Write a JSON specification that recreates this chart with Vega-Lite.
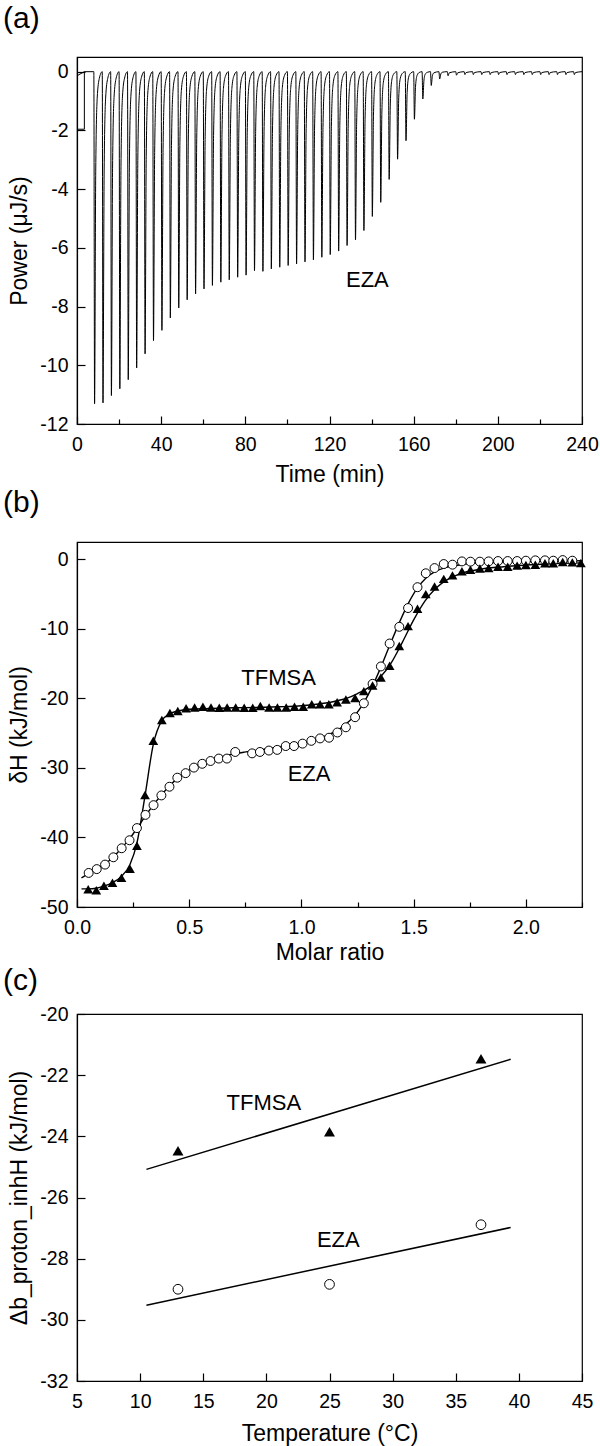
{
  "$schema": "https://vega.github.io/schema/vega-lite/v6.json",
  "padding": {"left": 2, "top": 3, "right": 0, "bottom": 0},
  "background": "white",
  "spacing": 0,
  "config": {
    "font": "Liberation Sans",
    "view": {"stroke": "black", "strokeWidth": 1.2},
    "axis": {"grid": false, "domainColor": "black", "domainWidth": 1.2, "tickColor": "black", "tickWidth": 1.2, "tickSize": -8,
      "labelColor": "black", "labelFont": "Liberation Sans", "labelFontSize": 19.5, "titleFont": "Liberation Sans", "titleFontSize": 23,
      "titleFontWeight": "normal", "titleColor": "black", "labelOverlap": false, "labelFlush": false, "labelBound": false},
    "axisX": {"labelPadding": 19.5, "titlePadding": 9},
    "axisY": {"labelPadding": 17, "titlePadding": 8},
    "title": {"anchor": "start", "frame": "group", "dx": -74, "fontSize": 30, "fontWeight": "normal", "font": "Liberation Sans", "color": "black"},
    "text": {"font": "Liberation Sans", "fontSize": 22, "color": "black"}
  },
  "datasets": {
    "a0": [{"t":0,"p":-0.14,"i":1},{"t":3.5,"p":0,"i":2},{"t":3.5,"p":-1.96,"i":3},{"t":0,"p":-1.96,"i":4}],
    "a1": [
      {"t":3.5,"p":0},
      {"t":8,"p":0},{"t":8.35,"p":-11.31},{"t":8.9,"p":-3.39},{"t":9.6,"p":-0.9},{"t":10.6,"p":-0.23},
      {"t":12,"p":0},{"t":12.35,"p":-11.28},{"t":12.9,"p":-3.38},{"t":13.6,"p":-0.9},{"t":14.6,"p":-0.23},
      {"t":16,"p":0},{"t":16.35,"p":-11.03},{"t":16.9,"p":-3.31},{"t":17.6,"p":-0.88},{"t":18.6,"p":-0.22},
      {"t":20,"p":0},{"t":20.35,"p":-10.8},{"t":20.9,"p":-3.24},{"t":21.6,"p":-0.86},{"t":22.6,"p":-0.22},
      {"t":24,"p":0},{"t":24.35,"p":-10.49},{"t":24.9,"p":-3.15},{"t":25.6,"p":-0.84},{"t":26.6,"p":-0.21},
      {"t":28,"p":0},{"t":28.35,"p":-10.09},{"t":28.9,"p":-3.03},{"t":29.6,"p":-0.81},{"t":30.6,"p":-0.2},
      {"t":32,"p":0},{"t":32.35,"p":-9.61},{"t":32.9,"p":-2.88},{"t":33.6,"p":-0.77},{"t":34.6,"p":-0.19},
      {"t":36,"p":0},{"t":36.35,"p":-9.16},{"t":36.9,"p":-2.75},{"t":37.6,"p":-0.73},{"t":38.6,"p":-0.18},
      {"t":40,"p":0},{"t":40.35,"p":-8.81},{"t":40.9,"p":-2.64},{"t":41.6,"p":-0.7},{"t":42.6,"p":-0.18},
      {"t":44,"p":0},{"t":44.35,"p":-8.39},{"t":44.9,"p":-2.52},{"t":45.6,"p":-0.67},{"t":46.6,"p":-0.17},
      {"t":48,"p":0},{"t":48.35,"p":-8.05},{"t":48.9,"p":-2.42},{"t":49.6,"p":-0.64},{"t":50.6,"p":-0.16},
      {"t":52,"p":0},{"t":52.35,"p":-7.77},{"t":52.9,"p":-2.33},{"t":53.6,"p":-0.62},{"t":54.6,"p":-0.16},
      {"t":56,"p":0},{"t":56.35,"p":-7.57},{"t":56.9,"p":-2.27},{"t":57.6,"p":-0.61},{"t":58.6,"p":-0.15},
      {"t":60,"p":0},{"t":60.35,"p":-7.4},{"t":60.9,"p":-2.22},{"t":61.6,"p":-0.59},{"t":62.6,"p":-0.15},
      {"t":64,"p":0},{"t":64.35,"p":-7.28},{"t":64.9,"p":-2.18},{"t":65.6,"p":-0.58},{"t":66.6,"p":-0.15},
      {"t":68,"p":0},{"t":68.35,"p":-7.17},{"t":68.9,"p":-2.15},{"t":69.6,"p":-0.57},{"t":70.6,"p":-0.14},
      {"t":72,"p":0},{"t":72.35,"p":-7.09},{"t":72.9,"p":-2.13},{"t":73.6,"p":-0.57},{"t":74.6,"p":-0.14},
      {"t":76,"p":0},{"t":76.35,"p":-7.0},{"t":76.9,"p":-2.1},{"t":77.6,"p":-0.56},{"t":78.6,"p":-0.14},
      {"t":80,"p":0},{"t":80.35,"p":-6.93},{"t":80.9,"p":-2.08},{"t":81.6,"p":-0.55},{"t":82.6,"p":-0.14},
      {"t":84,"p":0},{"t":84.35,"p":-6.78},{"t":84.9,"p":-2.03},{"t":85.6,"p":-0.54},{"t":86.6,"p":-0.14},
      {"t":88,"p":0},{"t":88.35,"p":-6.8},{"t":88.9,"p":-2.04},{"t":89.6,"p":-0.54},{"t":90.6,"p":-0.14},
      {"t":92,"p":0},{"t":92.35,"p":-6.72},{"t":92.9,"p":-2.02},{"t":93.6,"p":-0.54},{"t":94.6,"p":-0.13},
      {"t":96,"p":0},{"t":96.35,"p":-6.66},{"t":96.9,"p":-2.0},{"t":97.6,"p":-0.53},{"t":98.6,"p":-0.13},
      {"t":100,"p":0},{"t":100.35,"p":-6.6},{"t":100.9,"p":-1.98},{"t":101.6,"p":-0.53},{"t":102.6,"p":-0.13},
      {"t":104,"p":0},{"t":104.35,"p":-6.55},{"t":104.9,"p":-1.97},{"t":105.6,"p":-0.52},{"t":106.6,"p":-0.13},
      {"t":108,"p":0},{"t":108.35,"p":-6.48},{"t":108.9,"p":-1.94},{"t":109.6,"p":-0.52},{"t":110.6,"p":-0.13},
      {"t":112,"p":0},{"t":112.35,"p":-6.41},{"t":112.9,"p":-1.92},{"t":113.6,"p":-0.51},{"t":114.6,"p":-0.13},
      {"t":116,"p":0},{"t":116.35,"p":-6.32},{"t":116.9,"p":-1.9},{"t":117.6,"p":-0.51},{"t":118.6,"p":-0.13},
      {"t":120,"p":0},{"t":120.35,"p":-6.23},{"t":120.9,"p":-1.87},{"t":121.6,"p":-0.5},{"t":122.6,"p":-0.12},
      {"t":124,"p":0},{"t":124.35,"p":-6.11},{"t":124.9,"p":-1.83},{"t":125.6,"p":-0.49},{"t":126.6,"p":-0.12},
      {"t":128,"p":0},{"t":128.35,"p":-5.92},{"t":128.9,"p":-1.78},{"t":129.6,"p":-0.47},{"t":130.6,"p":-0.12},
      {"t":132,"p":0},{"t":132.35,"p":-5.73},{"t":132.9,"p":-1.72},{"t":133.6,"p":-0.46},{"t":134.6,"p":-0.11},
      {"t":136,"p":0},{"t":136.35,"p":-5.41},{"t":136.9,"p":-1.62},{"t":137.6,"p":-0.43},{"t":138.6,"p":-0.11},
      {"t":140,"p":0},{"t":140.35,"p":-4.93},{"t":140.9,"p":-1.48},{"t":141.6,"p":-0.39},{"t":142.6,"p":-0.1},
      {"t":144,"p":0},{"t":144.35,"p":-4.45},{"t":144.9,"p":-1.34},{"t":145.6,"p":-0.36},{"t":146.6,"p":-0.09},
      {"t":148,"p":0},{"t":148.35,"p":-3.67},{"t":148.9,"p":-1.1},{"t":149.6,"p":-0.29},{"t":150.6,"p":-0.07},
      {"t":152,"p":0},{"t":152.35,"p":-2.98},{"t":152.9,"p":-0.89},{"t":153.6,"p":-0.24},{"t":154.6,"p":-0.06},
      {"t":156,"p":0},{"t":156.35,"p":-2.35},{"t":156.9,"p":-0.71},{"t":157.6,"p":-0.19},{"t":158.6,"p":-0.05},
      {"t":160,"p":0},{"t":160.35,"p":-1.62},{"t":160.9,"p":-0.49},{"t":161.6,"p":-0.13},{"t":162.6,"p":-0.03},
      {"t":164,"p":0},{"t":164.35,"p":-0.93},{"t":164.9,"p":-0.28},{"t":165.6,"p":-0.07},{"t":166.6,"p":-0.02},
      {"t":168,"p":0},{"t":168.35,"p":-0.47},{"t":168.9,"p":-0.14},{"t":169.6,"p":-0.04},
      {"t":172,"p":0},{"t":172.35,"p":-0.25},{"t":172.9,"p":-0.08},{"t":173.6,"p":-0.02},
      {"t":176,"p":0},{"t":176.35,"p":-0.14},{"t":176.9,"p":-0.04},
      {"t":180,"p":0},{"t":180.35,"p":-0.12},{"t":180.9,"p":-0.04},
      {"t":184,"p":0},{"t":184.35,"p":-0.1},{"t":184.9,"p":-0.03},
      {"t":188,"p":0},{"t":188.35,"p":-0.1},{"t":188.9,"p":-0.03},
      {"t":192,"p":0},{"t":192.35,"p":-0.1},{"t":192.9,"p":-0.03},
      {"t":196,"p":0},{"t":196.35,"p":-0.1},{"t":196.9,"p":-0.03},
      {"t":200,"p":0},{"t":200.35,"p":-0.1},{"t":200.9,"p":-0.03},
      {"t":204,"p":0},{"t":204.35,"p":-0.1},{"t":204.9,"p":-0.03},
      {"t":208,"p":0},{"t":208.35,"p":-0.1},{"t":208.9,"p":-0.03},
      {"t":212,"p":0},{"t":212.35,"p":-0.1},{"t":212.9,"p":-0.03},
      {"t":216,"p":0},{"t":216.35,"p":-0.1},{"t":216.9,"p":-0.03},
      {"t":220,"p":0},{"t":220.35,"p":-0.1},{"t":220.9,"p":-0.03},
      {"t":224,"p":0},{"t":224.35,"p":-0.1},{"t":224.9,"p":-0.03},
      {"t":228,"p":0},{"t":228.35,"p":-0.1},{"t":228.9,"p":-0.03},
      {"t":232,"p":0},{"t":232.35,"p":-0.1},{"t":232.9,"p":-0.03},
      {"t":236,"p":0},{"t":236.35,"p":-0.1},{"t":236.9,"p":-0.03},
      {"t":240,"p":0}
    ],
    "aTxt": [{"t":138,"p":-7.1,"txt":"EZA"}],
    "bPts": [
      {"m":0.052,"h":-45.1,"s":"EZA"},{"m":0.088,"h":-44.55,"s":"EZA"},{"m":0.125,"h":-43.9,"s":"EZA"},{"m":0.162,"h":-42.85,"s":"EZA"},
      {"m":0.199,"h":-41.55,"s":"EZA"},{"m":0.234,"h":-40.4,"s":"EZA"},{"m":0.267,"h":-38.65,"s":"EZA"},{"m":0.305,"h":-36.75,"s":"EZA"},
      {"m":0.341,"h":-35.35,"s":"EZA"},{"m":0.376,"h":-33.95,"s":"EZA"},{"m":0.412,"h":-32.7,"s":"EZA"},{"m":0.447,"h":-31.4,"s":"EZA"},
      {"m":0.484,"h":-30.75,"s":"EZA"},{"m":0.521,"h":-29.95,"s":"EZA"},{"m":0.558,"h":-29.4,"s":"EZA"},{"m":0.595,"h":-29.0,"s":"EZA"},
      {"m":0.632,"h":-28.65,"s":"EZA"},{"m":0.668,"h":-28.65,"s":"EZA"},{"m":0.705,"h":-27.7,"s":"EZA"},{"m":0.78,"h":-27.9,"s":"EZA"},
      {"m":0.815,"h":-27.7,"s":"EZA"},{"m":0.855,"h":-27.5,"s":"EZA"},{"m":0.892,"h":-27.4,"s":"EZA"},{"m":0.93,"h":-26.85,"s":"EZA"},
      {"m":0.967,"h":-26.85,"s":"EZA"},{"m":1.005,"h":-26.5,"s":"EZA"},{"m":1.044,"h":-26.1,"s":"EZA"},{"m":1.083,"h":-25.75,"s":"EZA"},
      {"m":1.123,"h":-25.65,"s":"EZA"},{"m":1.16,"h":-24.9,"s":"EZA"},{"m":1.198,"h":-24.15,"s":"EZA"},{"m":1.239,"h":-22.7,"s":"EZA"},
      {"m":1.278,"h":-20.7,"s":"EZA"},{"m":1.317,"h":-17.9,"s":"EZA"},{"m":1.354,"h":-15.4,"s":"EZA"},{"m":1.393,"h":-12.1,"s":"EZA"},
      {"m":1.436,"h":-9.7,"s":"EZA"},{"m":1.475,"h":-7.0,"s":"EZA"},{"m":1.517,"h":-4.0,"s":"EZA"},{"m":1.554,"h":-2.0,"s":"EZA"},
      {"m":1.593,"h":-1.25,"s":"EZA"},{"m":1.634,"h":-0.67,"s":"EZA"},{"m":1.673,"h":-0.76,"s":"EZA"},{"m":1.715,"h":-0.29,"s":"EZA"},
      {"m":1.753,"h":-0.33,"s":"EZA"},{"m":1.795,"h":-0.33,"s":"EZA"},{"m":1.834,"h":-0.29,"s":"EZA"},{"m":1.876,"h":-0.24,"s":"EZA"},
      {"m":1.919,"h":-0.24,"s":"EZA"},{"m":1.961,"h":-0.24,"s":"EZA"},{"m":2.0,"h":-0.19,"s":"EZA"},{"m":2.042,"h":-0.14,"s":"EZA"},
      {"m":2.085,"h":-0.14,"s":"EZA"},{"m":2.122,"h":-0.19,"s":"EZA"},{"m":2.164,"h":-0.1,"s":"EZA"},{"m":2.207,"h":-0.19,"s":"EZA"},
      {"m":0.05,"h":-47.45,"s":"TFMSA"},{"m":0.086,"h":-47.6,"s":"TFMSA"},{"m":0.12,"h":-46.95,"s":"TFMSA"},{"m":0.158,"h":-46.5,"s":"TFMSA"},
      {"m":0.198,"h":-45.8,"s":"TFMSA"},{"m":0.236,"h":-44.5,"s":"TFMSA"},{"m":0.267,"h":-41.2,"s":"TFMSA"},{"m":0.303,"h":-33.9,"s":"TFMSA"},
      {"m":0.34,"h":-26.1,"s":"TFMSA"},{"m":0.378,"h":-23.1,"s":"TFMSA"},{"m":0.414,"h":-22.1,"s":"TFMSA"},{"m":0.449,"h":-21.8,"s":"TFMSA"},
      {"m":0.486,"h":-21.4,"s":"TFMSA"},{"m":0.524,"h":-21.3,"s":"TFMSA"},{"m":0.561,"h":-21.2,"s":"TFMSA"},{"m":0.597,"h":-21.3,"s":"TFMSA"},
      {"m":0.634,"h":-21.35,"s":"TFMSA"},{"m":0.669,"h":-21.3,"s":"TFMSA"},{"m":0.707,"h":-21.3,"s":"TFMSA"},{"m":0.745,"h":-21.35,"s":"TFMSA"},
      {"m":0.783,"h":-21.35,"s":"TFMSA"},{"m":0.817,"h":-21.1,"s":"TFMSA"},{"m":0.856,"h":-21.3,"s":"TFMSA"},{"m":0.893,"h":-21.3,"s":"TFMSA"},
      {"m":0.932,"h":-21.3,"s":"TFMSA"},{"m":0.969,"h":-21.2,"s":"TFMSA"},{"m":1.008,"h":-21.2,"s":"TFMSA"},{"m":1.046,"h":-20.85,"s":"TFMSA"},
      {"m":1.083,"h":-20.85,"s":"TFMSA"},{"m":1.122,"h":-20.85,"s":"TFMSA"},{"m":1.159,"h":-20.55,"s":"TFMSA"},{"m":1.198,"h":-20.15,"s":"TFMSA"},
      {"m":1.239,"h":-19.95,"s":"TFMSA"},{"m":1.278,"h":-18.95,"s":"TFMSA"},{"m":1.317,"h":-18.15,"s":"TFMSA"},{"m":1.354,"h":-17.0,"s":"TFMSA"},
      {"m":1.393,"h":-15.3,"s":"TFMSA"},{"m":1.436,"h":-12.45,"s":"TFMSA"},{"m":1.475,"h":-9.6,"s":"TFMSA"},{"m":1.517,"h":-7.1,"s":"TFMSA"},
      {"m":1.554,"h":-5.0,"s":"TFMSA"},{"m":1.593,"h":-3.9,"s":"TFMSA"},{"m":1.634,"h":-2.8,"s":"TFMSA"},{"m":1.673,"h":-2.3,"s":"TFMSA"},
      {"m":1.715,"h":-1.7,"s":"TFMSA"},{"m":1.753,"h":-1.5,"s":"TFMSA"},{"m":1.795,"h":-1.3,"s":"TFMSA"},{"m":1.834,"h":-1.25,"s":"TFMSA"},
      {"m":1.876,"h":-1.05,"s":"TFMSA"},{"m":1.919,"h":-1.05,"s":"TFMSA"},{"m":1.961,"h":-0.9,"s":"TFMSA"},{"m":2.0,"h":-0.8,"s":"TFMSA"},
      {"m":2.042,"h":-0.76,"s":"TFMSA"},{"m":2.085,"h":-0.57,"s":"TFMSA"},{"m":2.122,"h":-0.57,"s":"TFMSA"},{"m":2.164,"h":-0.38,"s":"TFMSA"},
      {"m":2.207,"h":-0.43,"s":"TFMSA"},{"m":2.245,"h":-0.52,"s":"TFMSA"}
    ],
    "bFit": [
      {"m":0.02,"h":-45.8,"s":"EZA"},{"m":0.052,"h":-45.2,"s":"EZA"},{"m":0.088,"h":-44.6,"s":"EZA"},{"m":0.125,"h":-43.8,"s":"EZA"},
      {"m":0.162,"h":-42.8,"s":"EZA"},{"m":0.199,"h":-41.5,"s":"EZA"},{"m":0.234,"h":-40.2,"s":"EZA"},{"m":0.267,"h":-38.7,"s":"EZA"},
      {"m":0.305,"h":-36.9,"s":"EZA"},{"m":0.341,"h":-35.3,"s":"EZA"},{"m":0.376,"h":-33.9,"s":"EZA"},{"m":0.412,"h":-32.6,"s":"EZA"},
      {"m":0.447,"h":-31.5,"s":"EZA"},{"m":0.484,"h":-30.6,"s":"EZA"},{"m":0.521,"h":-29.9,"s":"EZA"},{"m":0.558,"h":-29.3,"s":"EZA"},
      {"m":0.595,"h":-28.9,"s":"EZA"},{"m":0.632,"h":-28.5,"s":"EZA"},{"m":0.668,"h":-28.2,"s":"EZA"},{"m":0.705,"h":-27.95,"s":"EZA"},
      {"m":0.742,"h":-27.75,"s":"EZA"},{"m":0.78,"h":-27.55,"s":"EZA"},{"m":0.815,"h":-27.4,"s":"EZA"},{"m":0.855,"h":-27.2,"s":"EZA"},
      {"m":0.892,"h":-27.05,"s":"EZA"},{"m":0.93,"h":-26.85,"s":"EZA"},{"m":0.967,"h":-26.65,"s":"EZA"},{"m":1.005,"h":-26.4,"s":"EZA"},
      {"m":1.044,"h":-26.1,"s":"EZA"},{"m":1.083,"h":-25.7,"s":"EZA"},{"m":1.123,"h":-25.2,"s":"EZA"},{"m":1.16,"h":-24.6,"s":"EZA"},
      {"m":1.198,"h":-23.7,"s":"EZA"},{"m":1.239,"h":-22.4,"s":"EZA"},{"m":1.278,"h":-20.6,"s":"EZA"},{"m":1.317,"h":-18.2,"s":"EZA"},
      {"m":1.354,"h":-15.5,"s":"EZA"},{"m":1.393,"h":-12.4,"s":"EZA"},{"m":1.436,"h":-9.1,"s":"EZA"},{"m":1.475,"h":-6.4,"s":"EZA"},
      {"m":1.517,"h":-4.1,"s":"EZA"},{"m":1.554,"h":-2.7,"s":"EZA"},{"m":1.593,"h":-1.8,"s":"EZA"},{"m":1.634,"h":-1.25,"s":"EZA"},
      {"m":1.673,"h":-0.95,"s":"EZA"},{"m":1.715,"h":-0.75,"s":"EZA"},{"m":1.8,"h":-0.5,"s":"EZA"},{"m":1.9,"h":-0.38,"s":"EZA"},
      {"m":2.0,"h":-0.3,"s":"EZA"},{"m":2.1,"h":-0.25,"s":"EZA"},{"m":2.25,"h":-0.2,"s":"EZA"},
      {"m":0.02,"h":-47.4,"s":"TFMSA"},{"m":0.05,"h":-47.4,"s":"TFMSA"},{"m":0.086,"h":-47.3,"s":"TFMSA"},{"m":0.12,"h":-47.0,"s":"TFMSA"},
      {"m":0.158,"h":-46.5,"s":"TFMSA"},{"m":0.198,"h":-45.6,"s":"TFMSA"},{"m":0.236,"h":-43.9,"s":"TFMSA"},{"m":0.267,"h":-40.8,"s":"TFMSA"},
      {"m":0.303,"h":-34.0,"s":"TFMSA"},{"m":0.34,"h":-26.6,"s":"TFMSA"},{"m":0.378,"h":-23.2,"s":"TFMSA"},{"m":0.414,"h":-22.2,"s":"TFMSA"},
      {"m":0.449,"h":-21.8,"s":"TFMSA"},{"m":0.5,"h":-21.55,"s":"TFMSA"},{"m":0.6,"h":-21.45,"s":"TFMSA"},{"m":0.7,"h":-21.35,"s":"TFMSA"},
      {"m":0.8,"h":-21.3,"s":"TFMSA"},{"m":0.9,"h":-21.2,"s":"TFMSA"},{"m":1.0,"h":-21.05,"s":"TFMSA"},{"m":1.05,"h":-20.9,"s":"TFMSA"},
      {"m":1.1,"h":-20.7,"s":"TFMSA"},{"m":1.15,"h":-20.4,"s":"TFMSA"},{"m":1.2,"h":-20.0,"s":"TFMSA"},{"m":1.25,"h":-19.3,"s":"TFMSA"},
      {"m":1.3,"h":-18.4,"s":"TFMSA"},{"m":1.35,"h":-17.0,"s":"TFMSA"},{"m":1.4,"h":-14.9,"s":"TFMSA"},{"m":1.45,"h":-11.9,"s":"TFMSA"},
      {"m":1.5,"h":-8.7,"s":"TFMSA"},{"m":1.55,"h":-6.0,"s":"TFMSA"},{"m":1.6,"h":-4.1,"s":"TFMSA"},{"m":1.65,"h":-2.9,"s":"TFMSA"},
      {"m":1.7,"h":-2.15,"s":"TFMSA"},{"m":1.8,"h":-1.4,"s":"TFMSA"},{"m":1.9,"h":-1.05,"s":"TFMSA"},{"m":2.0,"h":-0.82,"s":"TFMSA"},
      {"m":2.1,"h":-0.66,"s":"TFMSA"},{"m":2.25,"h":-0.5,"s":"TFMSA"}
    ],
    "bTxt": [{"m":0.898,"h":-17.1,"txt":"TFMSA"},{"m":1.034,"h":-30.9,"txt":"EZA"}],
    "cPts": [
      {"T":13,"H":-24.47,"s":"TFMSA"},{"T":25,"H":-23.85,"s":"TFMSA"},{"T":37,"H":-21.46,"s":"TFMSA"},
      {"T":13,"H":-29.0,"s":"EZA"},{"T":25,"H":-28.84,"s":"EZA"},{"T":37,"H":-26.89,"s":"EZA"}
    ],
    "cFit": [
      {"T":10.5,"H":-25.08,"s":"TFMSA"},{"T":39.35,"H":-21.48,"s":"TFMSA"},
      {"T":10.5,"H":-29.52,"s":"EZA"},{"T":39.35,"H":-26.98,"s":"EZA"}
    ],
    "cTxt": [{"T":19.8,"H":-22.9,"txt":"TFMSA"},{"T":25.7,"H":-27.4,"txt":"EZA"}]
  },
  "vconcat": [
    {
      "title": {"text": "(a)", "offset": 23},
      "width": 505,
      "height": 367,
      "layer": [
        {
          "data": {"name": "a0"},
          "mark": {"type": "line", "color": "black", "strokeWidth": 1},
          "encoding": {
            "x": {"field": "t", "type": "quantitative", "scale": {"domain": [0, 240], "nice": false},
              "axis": {"title": "Time (min)", "titlePadding": 9, "values": [0,20,40,60,80,100,120,140,160,180,200,220,240],
                "labelExpr": "datum.value % 40 === 0 ? datum.label : ''",
                "tickDash": {"condition": {"test": "datum.value % 40 !== 0", "value": [5, 10]}, "value": [10, 0]}}},
            "y": {"field": "p", "type": "quantitative", "scale": {"domain": [-12, 0.5], "nice": false},
              "axis": {"title": "Power (μJ/s)", "values": [-12,-11,-10,-9,-8,-7,-6,-5,-4,-3,-2,-1,0],
                "labelExpr": "datum.value % 2 === 0 ? replace(datum.label, '−', '-') : ''",
                "tickDash": {"condition": {"test": "datum.value % 2 !== 0", "value": [5, 10]}, "value": [10, 0]}}},
            "order": {"field": "i", "type": "quantitative"}
          }
        },
        {
          "data": {"name": "a1"},
          "mark": {"type": "line", "color": "black", "strokeWidth": 1, "interpolate": "monotone"},
          "encoding": {
            "x": {"field": "t", "type": "quantitative"},
            "y": {"field": "p", "type": "quantitative"}
          }
        },
        {
          "data": {"name": "aTxt"},
          "mark": {"type": "text", "align": "center", "baseline": "middle"},
          "encoding": {
            "x": {"field": "t", "type": "quantitative"},
            "y": {"field": "p", "type": "quantitative"},
            "text": {"field": "txt"}
          }
        }
      ]
    },
    {
      "title": {"text": "(b)", "offset": 24},
      "width": 505,
      "height": 365,
      "layer": [
        {
          "data": {"name": "bFit"},
          "mark": {"type": "line", "color": "black", "strokeWidth": 1.4, "interpolate": "monotone"},
          "encoding": {
            "x": {"field": "m", "type": "quantitative", "scale": {"domain": [0, 2.25], "nice": false},
              "axis": {"title": "Molar ratio", "titlePadding": 4, "values": [0,0.25,0.5,0.75,1,1.25,1.5,1.75,2,2.25], "format": ".1f",
                "labelExpr": "round(datum.value*4) % 2 === 0 && datum.value < 2.2 ? datum.label : ''",
                "tickDash": {"condition": {"test": "round(datum.value*4) % 2 !== 0", "value": [5, 10]}, "value": [10, 0]}}},
            "y": {"field": "h", "type": "quantitative", "scale": {"domain": [-50, 2.5], "nice": false},
              "axis": {"title": "δH (kJ/mol)", "values": [-50,-45,-40,-35,-30,-25,-20,-15,-10,-5,0],
                "labelExpr": "datum.value % 10 === 0 ? replace(datum.label, '−', '-') : ''",
                "tickDash": {"condition": {"test": "datum.value % 10 !== 0", "value": [5, 10]}, "value": [10, 0]}}},
            "detail": {"field": "s"}
          }
        },
        {
          "data": {"name": "bPts"},
          "transform": [{"filter": "datum.s === 'EZA'"}],
          "mark": {"type": "point", "shape": "circle", "filled": false, "fill": "white", "fillOpacity": 1, "stroke": "black", "strokeWidth": 1, "size": 80, "opacity": 1},
          "encoding": {
            "x": {"field": "m", "type": "quantitative"},
            "y": {"field": "h", "type": "quantitative"}
          }
        },
        {
          "data": {"name": "bPts"},
          "transform": [{"filter": "datum.s === 'TFMSA'"}],
          "mark": {"type": "point", "shape": "triangle-up", "filled": true, "color": "black", "size": 95, "opacity": 1},
          "encoding": {
            "x": {"field": "m", "type": "quantitative"},
            "y": {"field": "h", "type": "quantitative"}
          }
        },
        {
          "data": {"name": "bTxt"},
          "mark": {"type": "text", "align": "center", "baseline": "middle"},
          "encoding": {
            "x": {"field": "m", "type": "quantitative"},
            "y": {"field": "h", "type": "quantitative"},
            "text": {"field": "txt"}
          }
        }
      ]
    },
    {
      "title": {"text": "(c)", "offset": 8},
      "width": 505,
      "height": 367,
      "layer": [
        {
          "data": {"name": "cFit"},
          "mark": {"type": "line", "color": "black", "strokeWidth": 1.5},
          "encoding": {
            "x": {"field": "T", "type": "quantitative", "scale": {"domain": [5, 45], "nice": false},
              "axis": {"title": "Temperature (°C)", "titlePadding": 11, "values": [5,7.5,10,12.5,15,17.5,20,22.5,25,27.5,30,32.5,35,37.5,40,42.5,45],
                "labelExpr": "round(datum.value*2) % 2 === 0 ? datum.label : ''",
                "tickDash": {"condition": {"test": "round(datum.value*2) % 2 !== 0", "value": [5, 10]}, "value": [10, 0]}}},
            "y": {"field": "H", "type": "quantitative", "scale": {"domain": [-32, -20], "nice": false},
              "axis": {"title": "Δb_proton_inhH (kJ/mol)", "values": [-32,-31,-30,-29,-28,-27,-26,-25,-24,-23,-22,-21,-20],
                "labelExpr": "datum.value % 2 === 0 ? replace(datum.label, '−', '-') : ''",
                "tickDash": {"condition": {"test": "datum.value % 2 !== 0", "value": [5, 10]}, "value": [10, 0]}}},
            "detail": {"field": "s"}
          }
        },
        {
          "data": {"name": "cPts"},
          "transform": [{"filter": "datum.s === 'EZA'"}],
          "mark": {"type": "point", "shape": "circle", "filled": false, "fill": "white", "fillOpacity": 1, "stroke": "black", "strokeWidth": 1, "size": 95, "opacity": 1},
          "encoding": {
            "x": {"field": "T", "type": "quantitative"},
            "y": {"field": "H", "type": "quantitative"}
          }
        },
        {
          "data": {"name": "cPts"},
          "transform": [{"filter": "datum.s === 'TFMSA'"}],
          "mark": {"type": "point", "shape": "triangle-up", "filled": true, "color": "black", "size": 120, "opacity": 1},
          "encoding": {
            "x": {"field": "T", "type": "quantitative"},
            "y": {"field": "H", "type": "quantitative"}
          }
        },
        {
          "data": {"name": "cTxt"},
          "mark": {"type": "text", "align": "center", "baseline": "middle"},
          "encoding": {
            "x": {"field": "T", "type": "quantitative"},
            "y": {"field": "H", "type": "quantitative"},
            "text": {"field": "txt"}
          }
        }
      ]
    }
  ]
}
